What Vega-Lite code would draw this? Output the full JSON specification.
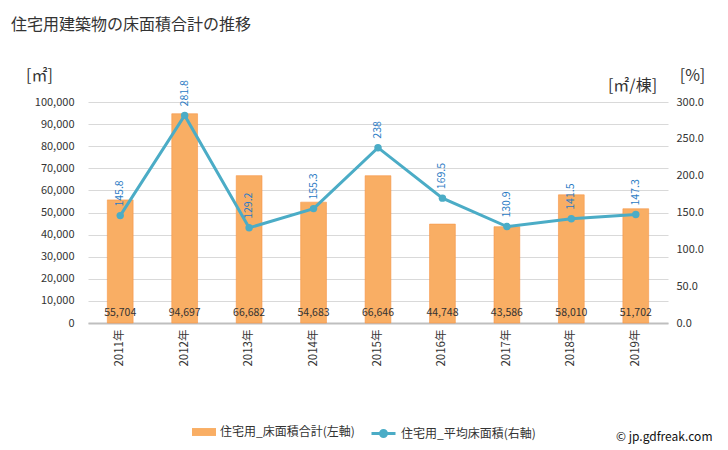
{
  "$schema": "https://vega.github.io/schema/vega-lite/v6.json",
  "width": 580,
  "height": 221,
  "autosize": {"type": "none"},
  "padding": {"left": 88, "top": 102, "right": 60, "bottom": 127},
  "background": "white",
  "config": {
    "font": "Noto Sans CJK JP",
    "view": {"stroke": null},
    "axis": {"labelColor": "#333333", "labelFontSize": 10, "titleColor": "#333333", "titleFontWeight": "normal", "tickSize": 0, "tickOpacity": 0},
    "axisY": {"grid": true, "gridColor": "#d9d9d9", "gridOpacity": 1, "gridWidth": 1},
    "legend": {"labelColor": "#333333", "labelFontSize": 12}
  },
  "title": {
    "text": "住宅用建築物の床面積合計の推移",
    "anchor": "start",
    "frame": "group",
    "dx": -77,
    "offset": 34,
    "fontSize": 16,
    "fontWeight": "normal",
    "color": "#333333"
  },
  "data": {
    "values": [
      {"year": "2011年", "area": 55704, "avg": 145.8, "areaLabel": "55,704", "avgLabel": "145.8"},
      {"year": "2012年", "area": 94697, "avg": 281.8, "areaLabel": "94,697", "avgLabel": "281.8"},
      {"year": "2013年", "area": 66682, "avg": 129.2, "areaLabel": "66,682", "avgLabel": "129.2"},
      {"year": "2014年", "area": 54683, "avg": 155.3, "areaLabel": "54,683", "avgLabel": "155.3"},
      {"year": "2015年", "area": 66646, "avg": 238, "areaLabel": "66,646", "avgLabel": "238"},
      {"year": "2016年", "area": 44748, "avg": 169.5, "areaLabel": "44,748", "avgLabel": "169.5"},
      {"year": "2017年", "area": 43586, "avg": 130.9, "areaLabel": "43,586", "avgLabel": "130.9"},
      {"year": "2018年", "area": 58010, "avg": 141.5, "areaLabel": "58,010", "avgLabel": "141.5"},
      {"year": "2019年", "area": 51702, "avg": 147.3, "areaLabel": "51,702", "avgLabel": "147.3"}
    ]
  },
  "encoding": {
    "x": {
      "field": "year",
      "type": "nominal",
      "sort": null,
      "scale": {"paddingInner": 0.6, "paddingOuter": 0.3},
      "axis": {
        "labelAngle": -90,
        "labelFontSize": 11.5,
        "labelPadding": 6,
        "grid": false,
        "domainColor": "#bfbfbf",
        "domainWidth": 2,
        "title": "© jp.gdfreak.com",
        "titleX": 624,
        "titleY": 113,
        "titleAlign": "right",
        "titleBaseline": "middle",
        "titleFontSize": 12,
        "titleColor": "#111111"
      }
    }
  },
  "layer": [
    {
      "layer": [
        {
          "mark": {"type": "bar", "stroke": "#F79646", "strokeWidth": 0.6},
          "encoding": {
            "y": {
              "field": "area",
              "type": "quantitative",
              "scale": {"domain": [0, 100000], "nice": false},
              "axis": {
                "tickCount": 10,
                "format": ",.0f",
                "domain": false,
                "grid": true,
                "gridColor": "#d9d9d9",
                "labelPadding": 14,
                "labelFontSize": 11,
                "title": "[㎡]",
                "titleAngle": 0,
                "titleX": -49,
                "titleY": -27,
                "titleAlign": "center",
                "titleBaseline": "middle",
                "titleFontSize": 16
              }
            },
            "fill": {
              "datum": "住宅用_床面積合計(左軸)",
              "scale": {"range": ["#F9AE64"]},
              "legend": {
                "title": null,
                "orient": "none",
                "legendX": 104,
                "legendY": 318,
                "symbolType": "M-1,-0.33H1V0.33H-1Z",
                "symbolSize": 576,
                "symbolStrokeWidth": 0,
                "symbolOpacity": 1
              }
            }
          }
        },
        {
          "mark": {"type": "text", "baseline": "middle", "dy": -10, "fontSize": 10.5, "color": "#333333"},
          "encoding": {
            "y": {
              "datum": 0,
              "type": "quantitative",
              "axis": {
                "tickCount": 10,
                "format": ",.0f",
                "domain": false,
                "grid": true,
                "gridColor": "#d9d9d9",
                "labelPadding": 14,
                "labelFontSize": 11,
                "title": "[㎡]",
                "titleAngle": 0,
                "titleX": -49,
                "titleY": -27,
                "titleAlign": "center",
                "titleBaseline": "middle",
                "titleFontSize": 16
              }
            },
            "text": {"field": "areaLabel"}
          }
        }
      ]
    },
    {
      "layer": [
        {
          "mark": {"type": "line", "strokeWidth": 3},
          "encoding": {
            "y": {
              "field": "avg",
              "type": "quantitative",
              "scale": {"domain": [0, 300], "nice": false},
              "axis": {
                "orient": "right",
                "values": [0, 50, 100, 150, 200, 250, 300],
                "format": ".1f",
                "domain": false,
                "grid": false,
                "labelPadding": 8,
                "labelFontSize": 11,
                "title": "[㎡/棟]",
                "titleAngle": 0,
                "titleX": -36,
                "titleY": -17,
                "titleAlign": "center",
                "titleBaseline": "middle",
                "titleFontSize": 16
              }
            },
            "stroke": {
              "datum": "住宅用_平均床面積(右軸)",
              "scale": {"range": ["#4BACC6"]},
              "legend": {
                "title": null,
                "orient": "none",
                "legendX": 282,
                "legendY": 318,
                "symbolType": "M-1,0H1M0.25,0A0.25,0.25,0,1,1,-0.25,0A0.25,0.25,0,1,1,0.25,0",
                "symbolSize": 576,
                "symbolStrokeWidth": 3
              }
            }
          }
        },
        {
          "mark": {"type": "point", "filled": true, "size": 55, "color": "#4BACC6", "opacity": 1},
          "encoding": {
            "y": {
              "field": "avg",
              "type": "quantitative",
              "axis": {
                "orient": "right",
                "values": [0, 50, 100, 150, 200, 250, 300],
                "format": ".1f",
                "domain": false,
                "grid": false,
                "labelPadding": 8,
                "labelFontSize": 11,
                "title": "[㎡/棟]",
                "titleAngle": 0,
                "titleX": -36,
                "titleY": -17,
                "titleAlign": "center",
                "titleBaseline": "middle",
                "titleFontSize": 16
              }
            }
          }
        },
        {
          "mark": {"type": "text", "angle": 270, "align": "left", "baseline": "middle", "dx": 9, "fontSize": 10.5, "color": "#2B7BC4"},
          "encoding": {
            "y": {
              "field": "avg",
              "type": "quantitative",
              "axis": {
                "orient": "right",
                "values": [0, 50, 100, 150, 200, 250, 300],
                "format": ".1f",
                "domain": false,
                "grid": false,
                "labelPadding": 8,
                "labelFontSize": 11,
                "title": "[㎡/棟]",
                "titleAngle": 0,
                "titleX": -36,
                "titleY": -17,
                "titleAlign": "center",
                "titleBaseline": "middle",
                "titleFontSize": 16
              }
            },
            "text": {"field": "avgLabel"}
          }
        }
      ]
    },
    {
      "mark": {"type": "rule", "opacity": 0},
      "encoding": {
        "y": {
          "datum": 0,
          "type": "quantitative",
          "axis": {
            "orient": "right",
            "labels": false,
            "domain": false,
            "grid": false,
            "title": "[%]",
            "titleAngle": 0,
            "titleX": 24,
            "titleY": -27,
            "titleAlign": "center",
            "titleBaseline": "middle",
            "titleFontSize": 16
          }
        }
      }
    }
  ],
  "resolve": {"scale": {"y": "independent"}}
}
